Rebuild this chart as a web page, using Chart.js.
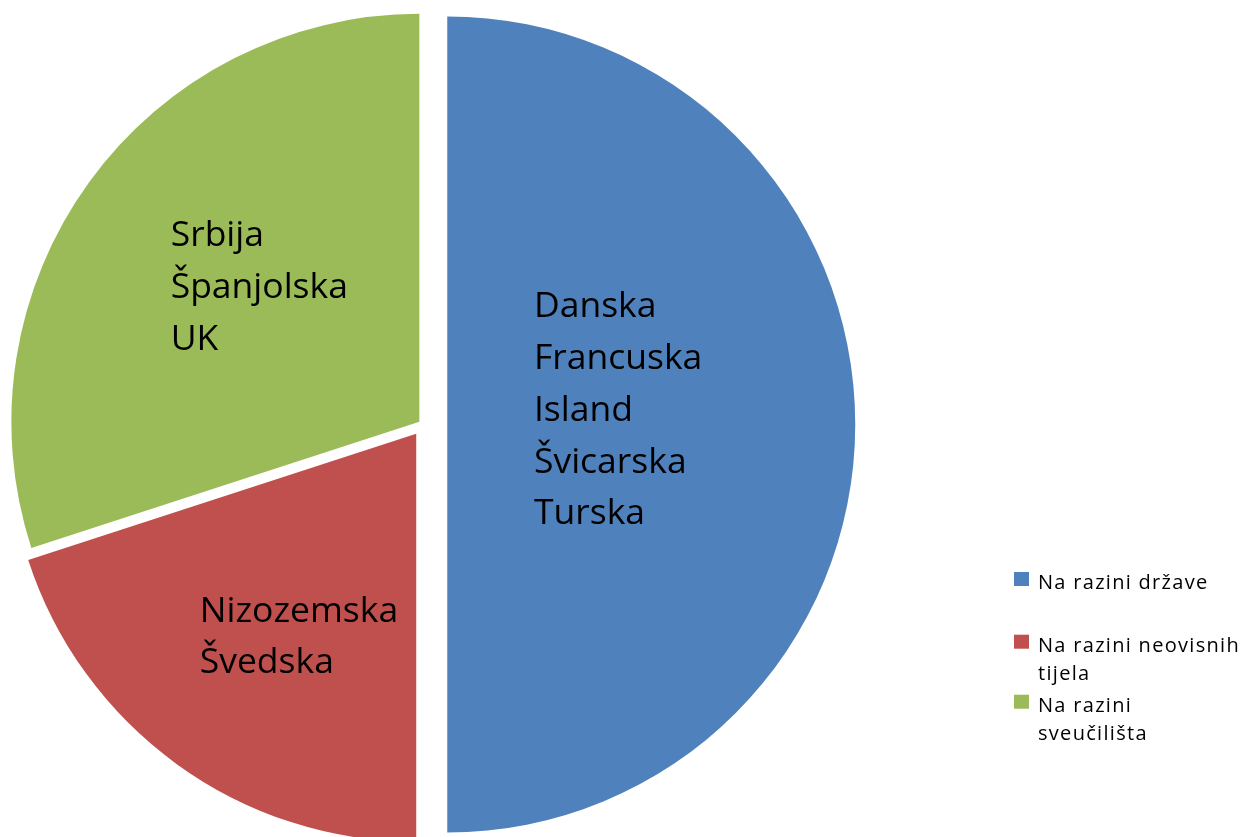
<!DOCTYPE html>
<html><head><meta charset="utf-8">
<script src="https://cdn.jsdelivr.net/npm/chart.js@4"></script>
<style>html,body{margin:0;padding:0;background:#fff;overflow:hidden}
#wrap{position:relative;width:1244px;height:837px}</style>
</head><body><div id="wrap"><canvas id="c" width="1244" height="837"></canvas></div>
<script>
// ---- data ----
const categories = ['Na razini države', 'Na razini neovisnih tijela', 'Na razini sveučilišta'];
const values = [5, 2, 3];
const countriesDrzava = ['Danska', 'Francuska', 'Island', 'Švicarska', 'Turska'];
const countriesNeovisna = ['Nizozemska', 'Švedska'];
const countriesSveucilista = ['Srbija', 'Španjolska', 'UK'];
const sliceLabels = [countriesDrzava, countriesNeovisna, countriesSveucilista];

// ---- style ----
const colors = ['#4F81BD', '#C0504D', '#9BBB59'];
const R = 408;
const explode = [97, 46, 18];            // Chart.js offset option (translation = offset/4)
const labelAnchor = [[86.7, -107.3], [-216.5, 187.8], [-248.7, -175.7]]; // relative to exploded slice centre
const labelLineH = 51.8;
const labelFont = '35.5px "Open Sans"';
const legendFont = '20px "Open Sans"';
const legend = { x: 1014, textX: 1038, maxW: 205, lineH: 28.5, firstBaseline: [589, 651.7, 711.7], box: 15 };

const slicePlugin = {
  id: 'slicePlugin',
  afterDatasetUpdate(chart, args) {
    // keep every exploded slice a true sector of radius R
    // (Chart.js enlarges the radius and trims the angle of a slice by its offset)
    args.meta.data.forEach(arc => {
      const circ = arc.endAngle - arc.startAngle;
      const fix = 1 - Math.sin(Math.min(Math.PI, circ));
      const t = ((arc.options && arc.options.offset) || 0) / 4;
      const ro = t * fix;
      arc.outerRadius = R - ro;
      const d = ro / Math.PI / R / 2;
      arc.startAngle -= d;
      arc.endAngle += d;
    });
  },
  afterDatasetsDraw(chart) {
    const ctx = chart.ctx;
    const meta = chart.getDatasetMeta(0);
    ctx.save();
    ctx.fillStyle = '#000';
    ctx.textAlign = 'left';
    ctx.textBaseline = 'alphabetic';
    ctx.font = labelFont;
    meta.data.forEach((arc, i) => {
      const mid = (arc.startAngle + arc.endAngle) / 2;
      const t = ((arc.options && arc.options.offset) || 0) / 4;
      const cx = arc.x + Math.cos(mid) * t, cy = arc.y + Math.sin(mid) * t;
      sliceLabels[i].forEach((line, j) => {
        ctx.fillText(line, cx + labelAnchor[i][0], cy + labelAnchor[i][1] + j * labelLineH);
      });
    });
    // legend
    ctx.font = legendFont;
    try { ctx.letterSpacing = '1.3px'; } catch (e) {}
    categories.forEach((cat, i) => {
      const words = cat.split(' ');
      const lines = [];
      let cur = '';
      words.forEach(w => {
        const test = cur ? cur + ' ' + w : w;
        if (cur && ctx.measureText(test).width > legend.maxW) { lines.push(cur); cur = w; }
        else cur = test;
      });
      if (cur) lines.push(cur);
      const b = legend.firstBaseline[i];
      ctx.fillStyle = colors[i];
      ctx.fillRect(legend.x, b - 17, legend.box, legend.box - 1);
      ctx.fillStyle = '#000';
      lines.forEach((l, j) => ctx.fillText(l, legend.textX, b + j * legend.lineH));
    });
    ctx.restore();
  }
};

function draw() {
  new Chart(document.getElementById('c'), {
    type: 'pie',
    data: {
      labels: categories,
      datasets: [{ data: values, backgroundColor: colors, borderWidth: 0, offset: explode, hoverOffset: 0, clip: false }]
    },
    options: {
      responsive: false,
      animation: false,
      events: [],
      radius: R,
      layout: { padding: { left: 0, right: 398, top: 12, bottom: 0 } },
      plugins: { legend: { display: false }, tooltip: { enabled: false } }
    },
    plugins: [slicePlugin]
  });
}
if (document.fonts && document.fonts.load) {
  Promise.all([document.fonts.load(labelFont), document.fonts.load(legendFont)]).then(draw, draw);
} else draw();
</script></body></html>
